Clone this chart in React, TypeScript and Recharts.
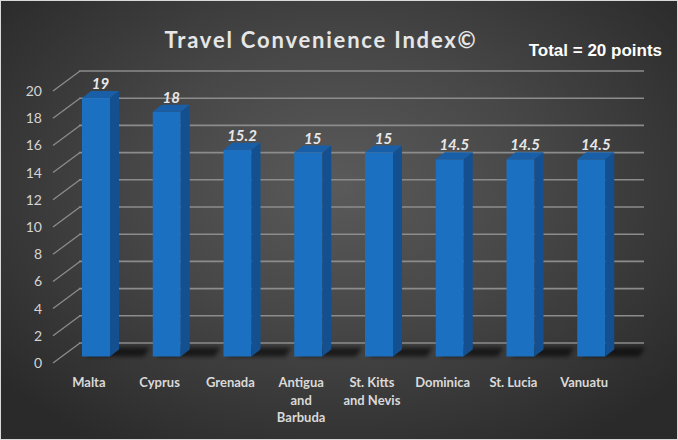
import React from 'react';
import { BarChart, Bar, XAxis, YAxis, CartesianGrid, LabelList } from 'recharts';

const countries = [
  'Malta',
  'Cyprus',
  'Grenada',
  'Antigua\nand\nBarbuda',
  'St. Kitts\nand Nevis',
  'Dominica',
  'St. Lucia',
  'Vanuatu',
];
const scores = [19, 18, 15.2, 15, 15, 14.5, 14.5, 14.5];
const yTicks = [0, 2, 4, 6, 8, 10, 12, 14, 16, 18, 20];

const data = countries.map((name, i) => ({ name, score: scores[i] }));

const FONT = 'Lato, "Open Sans", sans-serif';
// back wall offset from the front plane
const WALL_DX = 27;
const WALL_DY = 20;
// bar front face offset and bar depth
const BAR_DX = 9;
const BAR_DY = 6.5;
const SIDE_X = 9;
const SIDE_Y = 7;

const Bar3D = (props: any) => {
  const { x, y, width, height } = props;
  if (height == null || width == null) return null;
  const fx = x + BAR_DX;
  const top = y - BAR_DY;
  const bottom = y + height - BAR_DY;
  const r = fx + width;
  return (
    <g>
      <polygon
        points={`${fx + 4},${bottom} ${r + 34},${bottom} ${r + 40},${bottom - 9} ${fx + 12},${bottom - 9}`}
        fill="#000"
        opacity={0.6}
        filter="url(#shadowBlur)"
      />
      <rect x={fx} y={top} width={width} height={bottom - top} fill="#1b70c1" />
      <polygon
        points={`${r},${top} ${r + SIDE_X},${top - SIDE_Y} ${r + SIDE_X},${bottom - SIDE_Y} ${r},${bottom}`}
        fill="#14508f"
      />
      <polygon
        points={`${fx},${top} ${fx + SIDE_X},${top - SIDE_Y} ${r + SIDE_X},${top - SIDE_Y} ${r},${top}`}
        fill="#195fa7"
      />
    </g>
  );
};

const ValueLabel = (props: any) => {
  const { x, y, width, value } = props;
  return (
    <text
      x={x + width / 2 + BAR_DX + SIDE_X / 2}
      y={y - BAR_DY - SIDE_Y - 2}
      textAnchor="middle"
      fill="#e8e8e8"
      fontFamily={FONT}
      fontStyle="italic"
      fontWeight="bold"
      fontSize={15}
    >
      {value}
    </text>
  );
};

const YTick = (props: any) => {
  const { x, y, payload } = props;
  return (
    <g>
      <text
        x={x - 2}
        y={y}
        dy={5}
        textAnchor="end"
        fill="#d4d4d4"
        fontFamily={FONT}
        fontSize={14}
      >
        {payload.value}
      </text>
      <line x1={x + 9} y1={y} x2={x + 9 + WALL_DX} y2={y - WALL_DY} stroke="#8c8c8c" strokeWidth={1.3} />
    </g>
  );
};

const XTick = (props: any) => {
  const { x, y, payload } = props;
  const lines = String(payload.value).split('\n');
  return (
    <text
      x={x + 1.5}
      y={y}
      textAnchor="middle"
      fill="#d9d9d9"
      fontFamily={FONT}
      fontWeight="bold"
      fontSize={13}
    >
      {lines.map((l, i) => (
        <tspan key={i} x={x + 1.5} dy={i === 0 ? 16 : 17.5}>
          {l}
        </tspan>
      ))}
    </text>
  );
};

const wallLine = (p: any) => (
  <line
    key={p.key ?? `${p.y1}`}
    x1={p.x1 + WALL_DX}
    y1={p.y1 - WALL_DY}
    x2={p.x2 + WALL_DX - 1}
    y2={p.y2 - WALL_DY}
    stroke="#8c8c8c"
    strokeWidth={1.6}
  />
);

export default function App() {
  return (
    <div
      style={{
        position: 'absolute',
        left: 0,
        top: 0,
        width: 678,
        height: 440,
        boxSizing: 'border-box',
        border: '1px solid #d9d9d9',
        background: 'radial-gradient(ellipse 65% 70% at 50% 42%, #5a5a5a 0%, #474747 45%, #2a2a2a 100%)',
      }}
    >
      <div style={{ position: 'absolute', left: -1, top: -1 }}>
        <BarChart
          width={678}
          height={440}
          data={data}
          margin={{ top: 91, right: 60, bottom: 17, left: 8 }}
        >
          <defs>
            <filter id="shadowBlur" x="-20%" y="-50%" width="140%" height="200%">
              <feGaussianBlur stdDeviation="2" />
            </filter>
          </defs>
          <CartesianGrid vertical={false} horizontal={wallLine} />
          <XAxis
            dataKey="name"
            axisLine={false}
            tickLine={false}
            interval={0}
            height={60}
            tick={<XTick />}
          />
          <YAxis
            domain={[0, 20]}
            ticks={yTicks}
            axisLine={false}
            tickLine={false}
            width={44}
            tick={<YTick />}
          />
          <Bar dataKey="score" barSize={28} shape={<Bar3D />} isAnimationActive={false}>
            <LabelList dataKey="score" content={<ValueLabel />} />
          </Bar>
        </BarChart>
      </div>
      <svg
        width={678}
        height={440}
        style={{ position: 'absolute', left: -1, top: -1, pointerEvents: 'none' }}
      >
        <text
          x={321}
          y={48}
          textAnchor="middle"
          fill="#e6e6e6"
          fontFamily={FONT}
          fontWeight="bold"
          fontSize={22}
          letterSpacing={1.8}
        >
          Travel Convenience Index©
        </text>
        <text
          x={662}
          y={56}
          textAnchor="end"
          fill="#ffffff"
          fontFamily='"Liberation Sans", Arial, sans-serif'
          fontWeight="bold"
          fontSize={17}
        >
          Total = 20 points
        </text>
      </svg>
    </div>
  );
}
